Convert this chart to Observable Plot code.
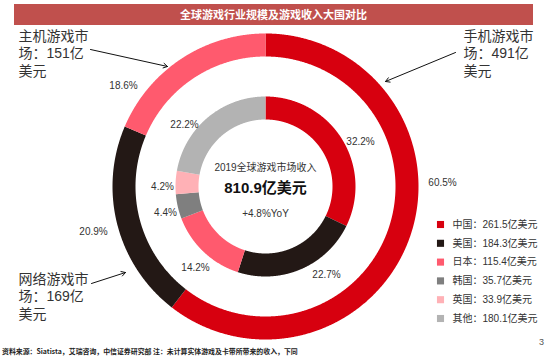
<!DOCTYPE html>
<html>
<head>
<meta charset="utf-8">
<script src="https://cdn.jsdelivr.net/npm/d3@7"></script>
<script src="https://cdn.jsdelivr.net/npm/@observablehq/plot@0.6"></script>
<style>
  html, body { margin: 0; padding: 0; background: #fff; }
  #wrap { position: relative; width: 550px; height: 356px; overflow: hidden; }
  #title { position: absolute; left: 14px; top: 4px; width: 519px; height: 21px; background: #c0504d;
    color: #fff; font: bold 11px "Noto Sans CJK SC", sans-serif; text-align: center; line-height: 21px; z-index: 2; }
  #footer { position: absolute; left: 2px; top: 346px; font: 600 6.9px "Noto Sans CJK SC", "Liberation Sans", sans-serif;
    color: #222; white-space: nowrap; z-index: 2; }
  #page { position: absolute; left: 539px; top: 337px; font: 9px "Liberation Sans", sans-serif; color: #555; z-index: 2; }
  #chart { position: absolute; left: 0; top: 0; }
</style>
</head>
<body>
<div id="wrap">
  <div id="title">全球游戏行业规模及游戏收入大国对比</div>
  <div id="chart"></div>
  <div id="footer">资料来源：Siatista，艾瑞咨询，中信证券研究部 注：未计算实体游戏及卡带所带来的收入，下同</div>
  <div id="page">3</div>
</div>
<script>
// ---------- data ----------
const segments = ["手机游戏", "网络游戏", "主机游戏"];
const segmentShare = [60.5, 20.9, 18.6];           // % of global game revenue
const segmentRevenue = [491, 169, 151];             // 亿美元
const countries = ["中国", "美国", "日本", "韩国", "英国", "其他"];
const countryRevenue = [261.5, 184.3, 115.4, 35.7, 33.9, 180.1]; // 亿美元
const countryShare = [32.2, 22.7, 14.2, 4.4, 4.2, 22.2];         // %
const totalRevenue = "810.9";
const growth = "+4.8%";

// ---------- style / layout ----------
const segmentColors = ["#d7000f", "#231815", "#ff5a6e"];
const countryColors = ["#d7000f", "#231815", "#ff5a6e", "#7f7f7f", "#ffb1b6", "#b3b3b3"];
const W = 550, H = 356, CX = 265, CY = 186;
const outerR = [130, 153], innerR = [67, 90];
// label offsets from the donut centre (px, y up)
const outerLabelPos = [[177, 4], [-172, -45], [-142, 101]];
const innerLabelPos = [[95, 45], [61, -88], [-70, -81], [-100, -26], [-103, 0], [-81, 62]];
// callouts: text anchor + arrow (from -> to), px offsets from centre, y up
const calloutText = [[198, 158], [-247, -85], [-247, 158]];
const calloutArrow = [
  [190, 134, 120, 105],
  [-174, -97, -140, -86],
  [-175, 137, -98, 120]
];
const legendX = 175, legendTextX = 187, legendTop = -38, legendStep = 18.8;

// ---------- derived tables ----------
const pie = d3.pie().sort(null).value(d => d.v).startAngle(0).endAngle(2 * Math.PI);
function ring(keys, vals, r0, r1) {
  const arcs = pie(keys.map((k, i) => ({k, v: vals[i]})));
  const pts = [];
  for (const a of arcs) {
    const n = Math.max(2, Math.ceil((a.endAngle - a.startAngle) / 0.005));
    for (let i = 0; i <= n; i++) {
      const t = a.startAngle + (a.endAngle - a.startAngle) * i / n;
      pts.push({k: a.data.k, x: r1 * Math.sin(t), y: r1 * Math.cos(t)});
    }
    for (let i = n; i >= 0; i--) {
      const t = a.startAngle + (a.endAngle - a.startAngle) * i / n;
      pts.push({k: a.data.k, x: r0 * Math.sin(t), y: r0 * Math.cos(t)});
    }
  }
  return pts;
}
const outerPts = ring(segments, segmentShare, outerR[0], outerR[1]);
const innerPts = ring(countries, countryRevenue, innerR[0], innerR[1]);

const outerLabels = segments.map((s, i) => ({x: outerLabelPos[i][0], y: outerLabelPos[i][1], t: segmentShare[i].toFixed(1) + "%"}));
const innerLabels = countries.map((c, i) => ({x: innerLabelPos[i][0], y: innerLabelPos[i][1], t: countryShare[i].toFixed(1) + "%"}));
const callouts = segments.map((s, i) => ({
  x: calloutText[i][0], y: calloutText[i][1],
  t: s + "市\n场：" + segmentRevenue[i] + "亿\n美元"
}));
const arrows = segments.map((s, i) => ({x1: calloutArrow[i][0], y1: calloutArrow[i][1], x2: calloutArrow[i][2], y2: calloutArrow[i][3]}));
const legend = countries.map((c, i) => ({k: c, y: legendTop - i * legendStep, t: c + "：" + countryRevenue[i] + "亿美元"}));
const centre = [
  {y: 19, t: "2019全球游戏市场收入"},
  {y: -2, t: totalRevenue + "亿美元"},
  {y: -27, t: growth + "YoY"}
];

const font = "'Liberation Sans', 'Noto Sans CJK SC', sans-serif";
const chart = Plot.plot({
  width: W, height: H, margin: 0,
  style: {background: "transparent", fontFamily: font, overflow: "visible"},
  x: {domain: [-CX, W - CX], axis: null},
  y: {domain: [CY - H, CY], axis: null},
  color: {domain: [...segments, ...countries], range: [...segmentColors, ...countryColors]},
  marks: [
    Plot.line(outerPts, {x: "x", y: "y", z: "k", fill: "k", stroke: null, curve: "linear"}),
    Plot.line(innerPts, {x: "x", y: "y", z: "k", fill: "k", stroke: null, curve: "linear"}),
    Plot.text(outerLabels, {x: "x", y: "y", text: "t", fontSize: 10, fill: "#333"}),
    Plot.text(innerLabels, {x: "x", y: "y", text: "t", fontSize: 10, fill: "#333"}),
    Plot.text(centre.slice(0, 1), {x: () => 0, y: "y", text: "t", fontSize: 10, fill: "#333"}),
    Plot.text(centre.slice(1, 2), {x: () => 0, y: "y", text: "t", fontSize: 15, fontWeight: "bold", fill: "#111"}),
    Plot.text(centre.slice(2, 3), {x: () => 0, y: "y", text: "t", fontSize: 10, fill: "#333"}),
    Plot.arrow(arrows, {x1: "x1", y1: "y1", x2: "x2", y2: "y2", stroke: "#111", strokeWidth: 1, headLength: 7}),
    Plot.text(callouts, {x: "x", y: "y", text: "t", textAnchor: "start", lineAnchor: "top", lineHeight: 1.25, fontSize: 14, fill: "#333"}),
    Plot.dot(legend, {x: () => legendX, y: "y", fill: "k", symbol: "square", r: 4, stroke: null}),
    Plot.text(legend, {x: () => legendTextX, y: "y", text: "t", textAnchor: "start", fontSize: 10, fill: "#333"})
  ]
});
document.getElementById("chart").appendChild(chart);
</script>
</body>
</html>
